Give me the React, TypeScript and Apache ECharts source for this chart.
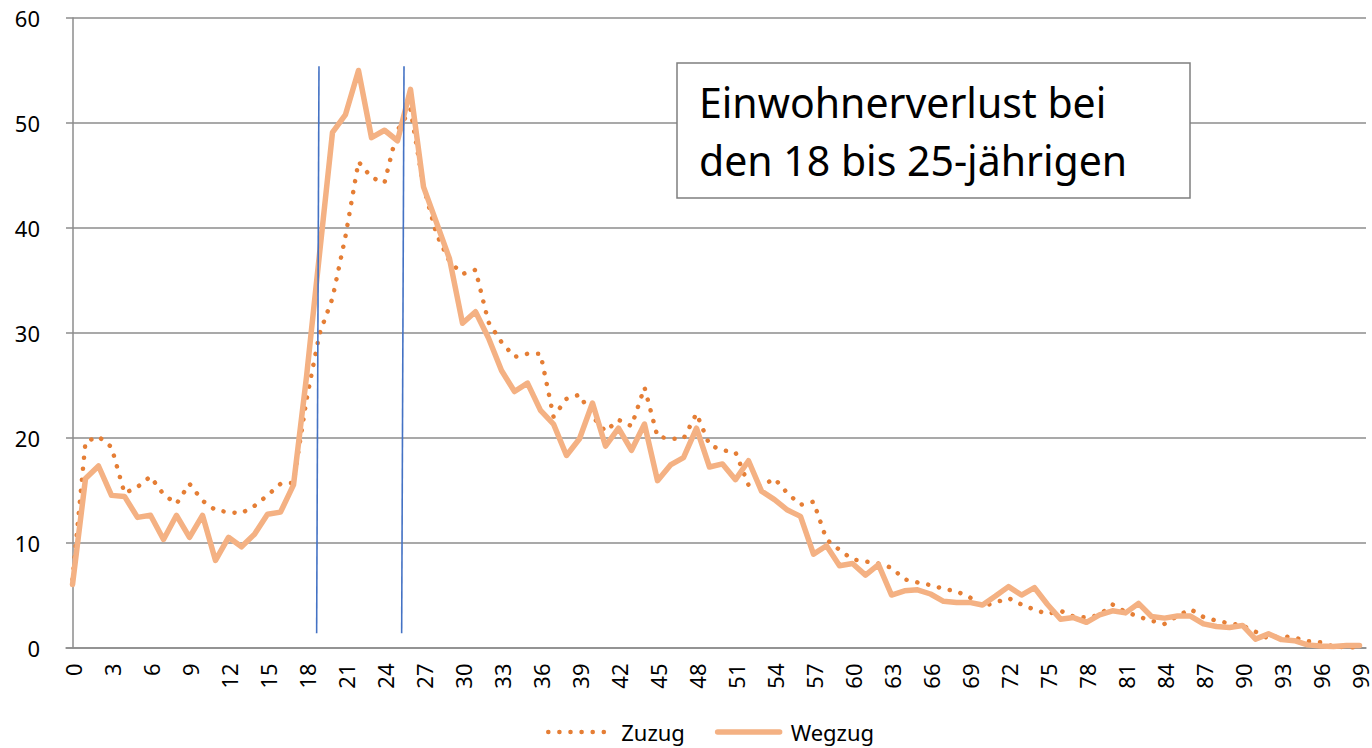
import React, { useEffect, useRef } from "react";
import * as echarts from "echarts";

// Alter in Jahren (Kategorien)
const ages: string[] = Array.from({ length: 100 }, (_, i) => String(i));

// Zuzug (gepunktet)
const zuzug: number[] = [
  6.5, 19.6, 20.1, 19.1, 14.7, 15.3, 16.3, 14.6, 13.7, 15.6,
  14.0, 13.1, 12.9, 12.8, 13.5, 14.5, 15.6, 15.7, 23.6, 29.9,
  33.3, 39.2, 46.3, 44.8, 44.3, 49.3, 51.3, 43.9, 39.4, 36.8,
  35.6, 36.0, 31.0, 29.1, 27.7, 28.0, 28.0, 22.0, 23.7, 24.1,
  22.0, 20.6, 21.7, 21.1, 24.8, 20.1, 19.9, 19.9, 22.3, 19.3,
  18.8, 18.6, 15.5, 15.4, 16.1, 14.7, 13.6, 13.9, 10.3, 9.3,
  8.4, 8.2, 8.0, 7.6, 6.5, 6.2, 5.95, 5.6, 5.35, 4.8,
  3.9, 4.3, 4.7, 4.1, 3.6, 3.2, 3.5, 2.95, 2.85, 3.1,
  4.1, 3.4, 2.95, 2.55, 2.25, 3.0, 3.65, 2.9, 2.55, 2.3,
  2.1, 1.5, 0.85, 1.1, 0.95, 0.6, 0.5, 0.1, 0.0, 0.0,
];

// Wegzug (durchgezogen)
const wegzug: number[] = [
  6.0, 16.1, 17.3, 14.5, 14.4, 12.4, 12.6, 10.3, 12.6, 10.5,
  12.6, 8.3, 10.5, 9.6, 10.8, 12.7, 12.9, 15.5, 25.8, 37.5,
  49.1, 50.8, 55.0, 48.6, 49.3, 48.3, 53.2, 43.9, 40.5, 37.05,
  30.9, 32.0, 29.5, 26.4, 24.4, 25.2, 22.6, 21.3, 18.3, 19.9,
  23.3, 19.2, 20.9, 18.8, 21.3, 15.9, 17.4, 18.1, 20.9, 17.2,
  17.5, 16.0, 17.8, 14.9, 14.1, 13.1, 12.5, 8.9, 9.7, 7.8,
  8.0, 6.9, 7.9, 5.0, 5.4, 5.5, 5.1, 4.4, 4.3, 4.3,
  4.05, 4.9, 5.8, 5.0, 5.7, 4.1, 2.7, 2.85, 2.4, 3.1,
  3.5, 3.3, 4.2, 2.95, 2.8, 3.0, 3.0, 2.25, 2.0, 1.9,
  2.1, 0.8, 1.3, 0.75, 0.65, 0.25, 0.15, 0.1, 0.2, 0.2,
];

const seriesNames: string[] = ["Zuzug", "Wegzug"];
const yTicks: number[] = [0, 10, 20, 30, 40, 50, 60];

// Markierungslinien (Alter oben/unten, Wert oben/unten)
const markerAgeTop: number[] = [18.96, 25.5];
const markerAgeBottom: number[] = [18.78, 25.32];
const markerValueTop: number[] = [55.4, 55.4];
const markerValueBottom: number[] = [1.35, 1.35];

const boxLines: string[] = ["Einwohnerverlust bei", "den 18 bis 25-jährigen"];

const FONT = "'Noto Sans', 'DejaVu Sans', sans-serif";

export default function App() {
  const ref = useRef<HTMLDivElement>(null);

  useEffect(() => {
    document.body.style.margin = "0";
    if (!ref.current) return;
    const chart = echarts.init(ref.current, null, { renderer: "svg" });

    const markData = markerAgeTop.map((a, i) => [
      { coord: [a, markerValueTop[i]] },
      { coord: [markerAgeBottom[i], markerValueBottom[i]] },
    ]);

    const option: any = {
      animation: false,
      textStyle: { fontFamily: FONT },
      grid: {
        left: 66,
        right: 6,
        top: 18,
        bottom: 100.5,
        containLabel: false,
        outerBoundsMode: "none",
      },
      xAxis: [
        {
          type: "category",
          data: ages,
          boundaryGap: true,
          axisLine: { show: true, lineStyle: { color: "#8c8c8c", width: 1.5 } },
          axisTick: { show: false },
          axisLabel: {
            interval: 2,
            rotate: 90,
            fontSize: 22,
            color: "#000",
            margin: 16,
            fontFamily: FONT,
          },
          splitLine: { show: false },
        },
        { type: "value", min: -0.5, max: 99.5, show: false },
      ],
      yAxis: {
        type: "value",
        min: yTicks[0],
        max: yTicks[yTicks.length - 1],
        interval: 10,
        axisLine: { show: true, lineStyle: { color: "#8c8c8c", width: 1.5 } },
        axisTick: { show: false },
        axisLabel: { fontSize: 22, color: "#000", margin: 26, fontFamily: FONT },
        splitLine: { show: true, lineStyle: { color: "#8c8c8c", width: 1.5 } },
      },
      legend: {
        data: seriesNames,
        left: 541,
        top: 716,
        itemWidth: 62,
        itemHeight: 20,
        itemGap: 30,
        itemStyle: { opacity: 0 },
        lineStyle: { width: "inherit", type: "inherit", cap: "inherit" },
        textStyle: { fontSize: 22, color: "#000", fontFamily: FONT, padding: [0, 0, 0, 6] },
      },
      series: [
        {
          name: seriesNames[0],
          type: "line",
          data: zuzug,
          symbol: "none",
          z: 2,
          itemStyle: { color: "#E57E35" },
          lineStyle: { color: "#E57E35", width: 4.5, type: [0.1, 11], cap: "round" },
        },
        {
          name: seriesNames[1],
          type: "line",
          data: wegzug,
          symbol: "none",
          z: 3,
          itemStyle: { color: "#F4B183" },
          lineStyle: { color: "#F4B183", width: 5.5, cap: "round", join: "round" },
        },
        {
          name: "Markierung",
          type: "line",
          xAxisIndex: 1,
          data: [],
          z: 4,
          markLine: {
            silent: true,
            symbol: "none",
            label: { show: false },
            lineStyle: { color: "#4472C4", width: 1.6, type: "solid" },
            data: markData,
          },
        },
      ],
      graphic: [
        {
          type: "rect",
          z: 100,
          shape: { x: 677, y: 63, width: 513, height: 135 },
          style: { fill: "#fff", stroke: "#7f7f7f", lineWidth: 1.5 },
        },
        {
          type: "text",
          z: 101,
          x: 699,
          y: 102,
          style: {
            text: boxLines[0],
            fontSize: 41,
            fontFamily: FONT,
            fill: "#000",
            verticalAlign: "middle",
            textVerticalAlign: "middle",
          },
        },
        {
          type: "text",
          z: 101,
          x: 699,
          y: 159.5,
          style: {
            text: boxLines[1],
            fontSize: 41,
            fontFamily: FONT,
            fill: "#000",
            verticalAlign: "middle",
            textVerticalAlign: "middle",
          },
        },
      ],
    };

    chart.setOption(option);
    return () => {
      chart.dispose();
    };
  }, []);

  return <div ref={ref} style={{ width: 1372, height: 748 }} />;
}
